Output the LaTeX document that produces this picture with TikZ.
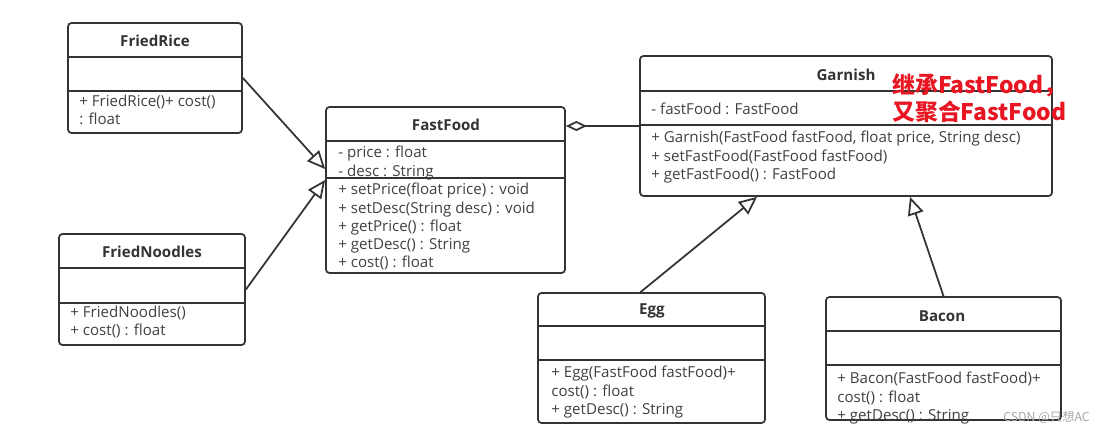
\documentclass[tikz,border=0pt]{standalone}
\usepackage{fontspec}
\setmainfont{Open Sans}
\newfontfamily\cjk{Noto Sans CJK SC}
\usetikzlibrary{arrows.meta,positioning,fit}
\definecolor{note}{RGB}{232,22,34}

\begin{document}
\begin{tikzpicture}[x=0.02cm,y=-0.02cm,
		cls/.style={draw=black!80, line width=1pt, rounded corners=2pt, inner sep=0pt},
		sep/.style={draw=black!80, line width=1pt},
		ttl/.style={font=\fontsize{8.6}{10}\selectfont\bfseries, text=black!80},
		mem/.style={anchor=north west, inner sep=0pt, align=left, font=\fontsize{8.6}{10.3}\selectfont, text=black!75},
		inh/.style={draw=black!80, line width=1pt, -{Triangle[open,length=0.36cm,width=0.32cm]}},
		agg/.style={draw=black!80, line width=1pt, -{Diamond[open,length=0.42cm,width=0.2cm]}}]
	\useasboundingbox (0,0) rectangle (1114,434);

	% FriedRice
	\node[cls, fit={(68,23) (242,133)}] (rice) {};
	\node[ttl] (riceT) at (155,41) {FriedRice};
	\draw[sep] (68,57) -- (242,57);
	\draw[sep] (68,91) -- (242,91);
	\node[mem] (riceM) at (79,95) {+ FriedRice()+ cost()\\: float};

	% FriedNoodles
	\node[cls, fit={(59,234) (245,345)}] (noodle) {};
	\node[ttl] (noodleT) at (152,252) {FriedNoodles};
	\draw[sep] (59,268) -- (245,268);
	\draw[sep] (59,303) -- (245,303);
	\node[mem] (noodleM) at (70,306) {+ FriedNoodles()\\+ cost() : float};

	% FastFood
	\node[cls, fit={(326,107) (565,273)}] (ff) {};
	\node[ttl] (ffT) at (446,125) {FastFood};
	\draw[sep] (326,141) -- (565,141);
	\draw[sep] (326,178) -- (565,178);
	\node[mem] (ffA) at (338,146) {- price : float\\- desc : String};
	\node[mem] (ffM) at (338,183) {+ setPrice(float price) : void\\+ setDesc(String desc) : void\\+ getPrice() : float\\+ getDesc() : String\\+ cost() : float};

	% Garnish
	\node[cls, fit={(640,56) (1052,196)}] (gar) {};
	\node[ttl] (garT) at (846,75) {Garnish};
	\draw[sep] (640,91) -- (1052,91);
	\draw[sep] (640,125) -- (1052,125);
	\node[mem] (garA) at (651,103) {- fastFood : FastFood};
	\node[mem] (garM) at (651,131) {+ Garnish(FastFood fastFood, float price, String desc)\\+ setFastFood(FastFood fastFood)\\+ getFastFood() : FastFood};
	\node[anchor=north west, inner sep=0pt, align=left, text=note,
		font=\cjk\bfseries\fontsize{13}{15.5}\selectfont] (note) at (892,73) {继承FastFood，\\又聚合FastFood};

	% Egg
	\node[cls, fit={(538,293) (765,423)}] (egg) {};
	\node[ttl] (eggT) at (652,311) {Egg};
	\draw[sep] (538,326) -- (765,326);
	\draw[sep] (538,360) -- (765,360);
	\node[mem] (eggM) at (551,366) {+ Egg(FastFood fastFood)+\\cost() : float\\+ getDesc() : String};

	% Bacon
	\node[cls, fit={(826,297) (1061,420)}] (bacon) {};
	\node[ttl] (baconT) at (942,316) {Bacon};
	\draw[sep] (826,331) -- (1061,331);
	\draw[sep] (826,365) -- (1061,365);
	\node[mem] (baconM) at (837,372) {+ Bacon(FastFood fastFood)+\\cost() : float\\+ getDesc() : String};

	\node[anchor=west, inner sep=0pt, text=black!35, font=\cjk\fontsize{7}{8}\selectfont] (mark) at (1003,417) {CSDN @只想AC};

	\draw[inh] (rice.east) -- ([yshift=0.42cm]ff.west);
	\draw[inh] (noodle.east) -- ([yshift=0.2cm]ff.west);
	\draw[agg] (gar.west) -- (gar.west -| ff.east);
	\draw[inh] ([xshift=-0.22cm]egg.north) -- ([xshift=-1.78cm]gar.south);
	\draw[inh] (bacon.north) -- ([xshift=1.28cm]gar.south);
\end{tikzpicture}
\end{document}
